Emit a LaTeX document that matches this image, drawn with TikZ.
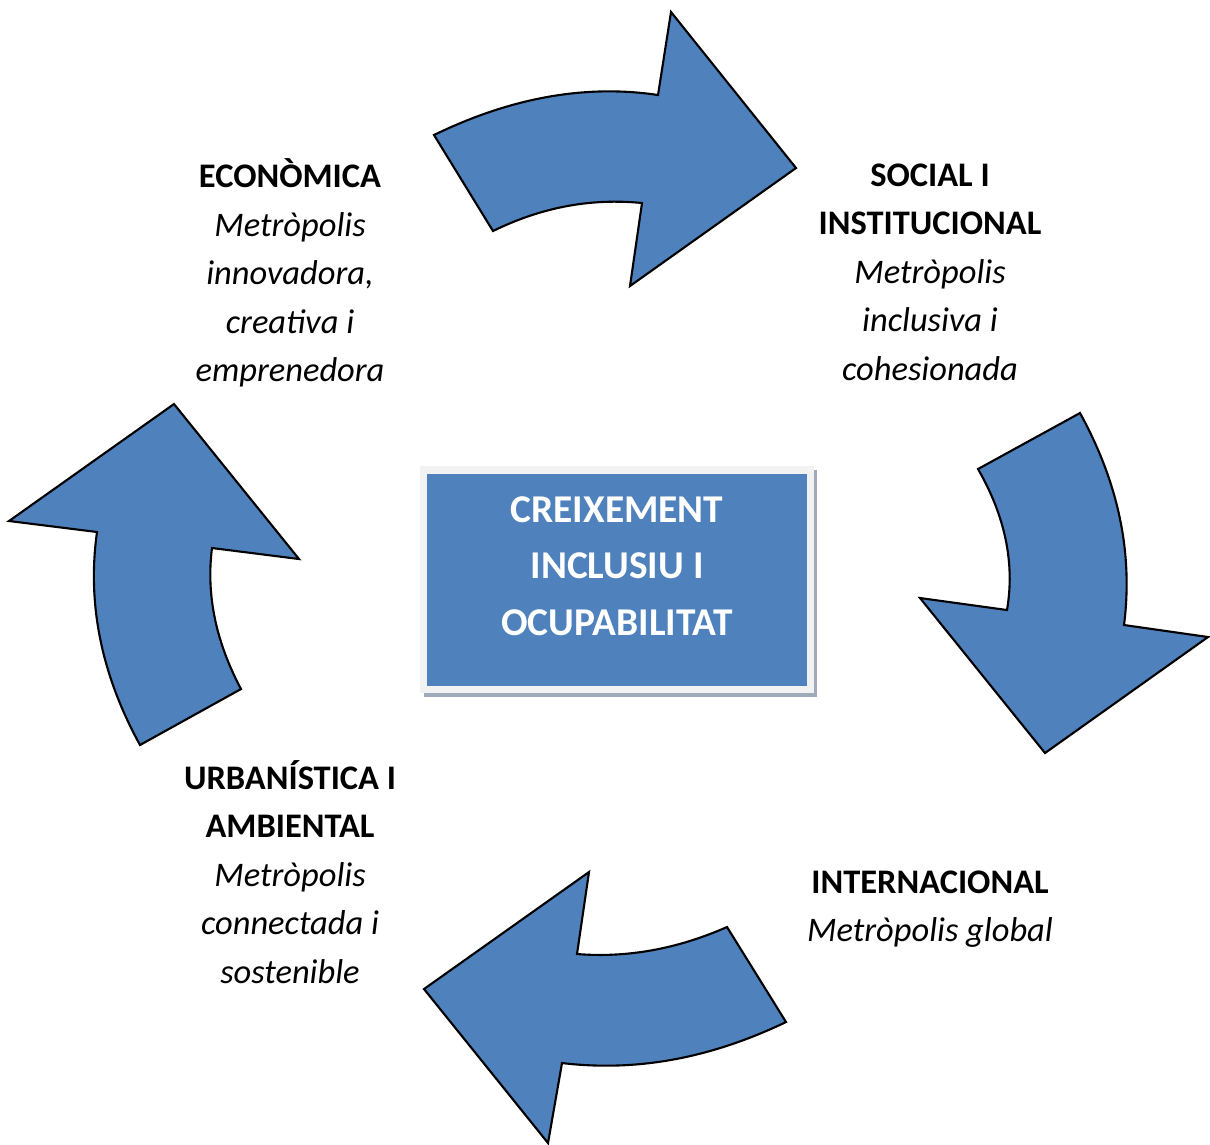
\documentclass[tikz,border=0pt]{standalone}
\usepackage{fontspec}
\setmainfont{Carlito}
\definecolor{arrowblue}{HTML}{4F81BD}
\definecolor{framegray}{HTML}{F2F2F2}
\definecolor{shadowgray}{RGB}{160,170,185}
\begin{document}
\begin{tikzpicture}[x=0.01cm, y=-0.01cm,
    bigarrow/.style = {draw=black, line width=0.6pt, fill=arrowblue, line join=miter},
    label/.style = {align=center, inner sep=0pt, font=\fontsize{9.8}{13.8}\selectfont},
    corebox/.style = {fill=arrowblue, minimum width=3.8cm, minimum height=2.11cm, inner sep=0pt},
    coretext/.style = {align=center, inner sep=0pt, text=white, font=\fontsize{11.2}{16}\selectfont\bfseries}]
    \useasboundingbox (0,0) rectangle (1210,1144);
    \fill[shadowgray] (424,470) rectangle (817,697);
    \fill[framegray] (420,466) rectangle (814,693);
    \node[corebox] (core) at (617,580) {};
    \node[coretext] (coretitle) at (617,566) {CREIXEMENT\\INCLUSIU I\\OCUPABILITAT};
    \draw[bigarrow] (434,135) -- (493,231) .. controls (542,207) and (591,198) .. (642,203) -- (630,286) -- (796,168) -- (671,12) -- (658,95) .. controls (585,84) and (510,98) .. (434,135) -- cycle;
    \draw[bigarrow] (1080,413) -- (978,469) .. controls (1005,516) and (1015,563) .. (1007,610) -- (920,598) -- (1045,753) -- (1208,637) -- (1124,625) .. controls (1133,554) and (1119,484) .. (1080,413) -- cycle;
    \draw[bigarrow] (786,1022) -- (727,927) .. controls (677,949) and (627,958) .. (577,954) -- (589,872) -- (424,989) -- (548,1143) -- (562,1063) .. controls (637,1072) and (711,1058) .. (786,1022) -- cycle;
    \draw[bigarrow] (140,745) -- (241,689) .. controls (216,642) and (206,595) .. (212,548) -- (299,559) -- (174,404) -- (9,521) -- (97,532) .. controls (87,603) and (101,674) .. (140,745) -- cycle;
    \node[label] (economica) at (290,273) {\textbf{ECONÒMICA}\\\textit{Metròpolis}\\\textit{innovadora,}\\\textit{creativa i}\\\textit{emprenedora}};
    \node[label] (social) at (930,272) {\textbf{SOCIAL I}\\\textbf{INSTITUCIONAL}\\\textit{Metròpolis}\\\textit{inclusiva i}\\\textit{cohesionada}};
    \node[label] (internacional) at (930,909) {\textbf{INTERNACIONAL}\\\textit{Metròpolis global}};
    \node[label] (urbanistica) at (290,872) {\textbf{URBANÍSTICA I}\\\textbf{AMBIENTAL}\\\textit{Metròpolis}\\\textit{connectada i}\\\textit{sostenible}};
\end{tikzpicture}
\end{document}
